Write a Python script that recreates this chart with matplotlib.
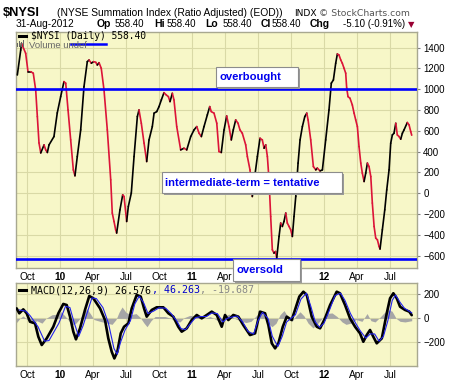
import matplotlib
matplotlib.use('Agg')
import matplotlib.pyplot as plt
from matplotlib.collections import LineCollection
from matplotlib.patches import Rectangle
from matplotlib.lines import Line2D

plt.rcParams['font.family'] = ['Liberation Sans', 'DejaVu Sans']

# ---------------- data (x = months since 1-Sep-2009) ----------------
nysi_t = [0.12, 0.43, 0.5, 0.88, 1.09, 1.34, 1.57, 1.79, 1.94, 2.09, 2.25, 2.55, 2.7, 2.85, 3.0,
          3.45, 3.75, 4.06, 4.36, 4.52, 4.73, 4.97, 5.21, 5.36, 5.57, 5.88, 6.18, 6.48, 6.64, 6.85,
          7.05, 7.25, 7.39, 7.55, 7.75, 8.0, 8.3, 8.61, 8.75, 8.91, 9.06, 9.15, 9.45, 9.7, 9.82,
          10.06, 10.21, 10.48, 10.73, 11.03, 11.18, 11.39, 11.64, 11.88, 12.09, 12.39, 12.55, 12.79,
          13.0, 13.21, 13.45, 13.66, 13.85, 14.0, 14.21, 14.36, 14.61, 14.97, 15.27, 15.52, 15.88,
          16.18, 16.43, 16.64, 16.85, 17.09, 17.39, 17.61, 17.75, 18.0, 18.25, 18.45, 18.66, 18.91,
          19.15, 19.36, 19.57, 19.75, 19.97, 20.18, 20.36, 20.57, 20.88, 21.03, 21.27, 21.48, 21.7,
          21.94, 22.18, 22.39, 22.55, 22.7, 22.85, 23.0, 23.15, 23.3, 23.45, 23.59, 23.7, 23.91,
          24.06, 24.21, 24.36, 24.52, 24.66, 24.82, 24.97, 25.12, 25.27, 25.43, 25.64, 25.82, 26.03,
          26.25, 26.43, 26.55, 26.79, 27.03, 27.25, 27.39, 27.64, 27.85, 28.15, 28.45, 28.66, 28.85,
          29.06, 29.21, 29.36, 29.52, 29.66, 29.82, 29.97, 30.06, 30.18, 30.36, 30.57, 30.73, 30.88,
          31.03, 31.18, 31.34, 31.48, 31.64, 31.79, 31.94, 32.09, 32.25, 32.39, 32.55, 32.7, 32.85,
          33.0, 33.09, 33.3, 33.52, 33.7, 33.91, 34.06, 34.21, 34.36, 34.52, 34.66, 34.82, 34.97,
          35.12, 35.27, 35.57, 35.73, 35.88, 35.97]
nysi_v = [1137, 1377, 1440, 1345, 1169, 1169, 1154, 993, 737, 484, 388, 465, 417, 392, 465,
          545, 772, 929, 1073, 1058, 801, 513, 225, 168, 353, 609, 1025, 1265, 1281, 1250,
          1265, 1259, 1233, 1255, 1201, 993, 609, 129, -190, -271, -351, -382, -159, -15, -31,
          -271, -127, 2, 353, 737, 801, 673, 482, 305, 513, 641, 770, 785,
          833, 897, 967, 945, 929, 881, 961, 897, 641, 417, 433, 417, 545,
          609, 641, 577, 545, 641, 753, 833, 785, 770, 673, 401, 392, 609,
          743, 641, 513, 609, 705, 673, 609, 577, 465, 353, 225, -31, 161,
          353, 529, 513, 433, 465, 353, 129, -223, -543, -575, -560, -622, -415,
          -286, -319, -271, -190, -286, -319, -351, -415, -223, -31, 290, 513, 641,
          737, 770, 705, 513, 257, 225, 242, 215, 225, 513, 801, 1058, 1089,
          1250, 1339, 1329, 1281, 1250, 1201, 1154, 1010, 929, 913, 849, 770, 705,
          641, 449, 290, 194, 113, 194, 290, 257, 161, -94, -319, -431, -447,
          -511, -536, -351, -159, 33, 225, 481, 561, 577, 673, 561, 545, 520,
          577, 609, 680, 657, 593, 558.4]

macd_t = [0.06, 0.3, 0.66, 0.97, 1.27, 1.73, 2.03, 2.34, 2.79, 3.39, 3.85, 4.3, 4.61, 4.91, 5.21,
          5.45, 5.82, 6.27, 6.66, 7.03, 7.64, 8.09, 8.39, 8.7, 8.94, 9.21, 9.52, 9.82, 10.21, 10.52,
          10.97, 11.34, 11.64, 11.88, 12.34, 12.79, 13.39, 13.85, 14.3, 14.75, 15.06, 15.52, 15.97,
          16.43, 16.88, 17.34, 17.79, 18.25, 18.7, 19.0, 19.3, 19.75, 20.21, 20.66, 21.27, 21.73,
          22.18, 22.64, 22.94, 23.25, 23.55, 23.85, 24.25, 24.61, 25.06, 25.36, 25.75, 26.12, 26.43,
          26.88, 27.34, 27.64, 28.09, 28.55, 29.15, 29.45, 29.91, 30.36, 30.82, 31.27, 31.57, 31.88,
          32.18, 32.48, 32.79, 33.25, 33.7, 34.0, 34.3, 34.61, 34.91, 35.36, 35.75, 35.97]
macd_v = [83, 42, 75, 42, -28, -42, -153, -222, -167, -70, 42, 120, 111, 14, -111,
          -175, -83, 70, 186, 167, 83, -14, -167, -278, -334, -278, -125, -70, -42, 83,
          195, 181, 83, 14, 70, 92, 92, 42, 14, -70, -111, -83, -14,
          28, 0, 28, 56, 28, -70, 28, -14, 28, 14, -56, -139, -125,
          56, 42, -56, -208, -250, -208, -70, 14, -14, 70, 181, 222, 195,
          14, -70, -83, 0, 111, 222, 209, 111, 0, -70, -125, -195, -139,
          -97, -153, -208, -167, 42, 167, 209, 167, 97, 70, 56, 26.576]

signal_t = [0.3, 0.9, 1.3, 2.0, 2.6, 3.0, 3.9, 4.5, 4.9, 5.3, 5.7, 6.1, 6.9, 7.3, 7.9, 8.4, 8.9,
            9.2, 9.5, 9.9, 10.4, 10.8, 11.2, 11.6, 12.0, 12.5, 13.0, 13.6, 14.1, 14.6, 15.0, 15.4,
            15.8, 16.3, 16.8, 17.3, 17.8, 18.3, 18.8, 19.2, 19.6, 20.1, 20.6, 21.1, 21.6, 22.0,
            22.4, 22.9, 23.3, 23.8, 24.2, 24.6, 25.0, 25.4, 25.9, 26.4, 26.8, 27.2, 27.6, 28.0,
            28.5, 29.0, 29.5, 29.9, 30.4, 30.9, 31.3, 31.8, 32.2, 32.6, 33.0, 33.4, 33.8, 34.2,
            34.5, 34.9, 35.3, 35.97]
signal_v = [70, 60, 20, -70, -190, -185, -40, 100, 90, -40, -150, -60, 170, 165, 90, -40, -250,
            -300, -200, -100, -20, 120, 185, 130, 40, 60, 88, 85, 40, -20, -85, -95,
            -50, 5, 15, 15, 45, 40, -30, 0, 10, 20, -30, -110, -130, -20,
            50, 0, -150, -235, -150, -30, 0, 30, 160, 210, 100, -30, -75, -40,
            70, 190, 210, 150, 40, -45, -105, -165, -130, -130, -190, -150, -20, 150,
            195, 135, 85, 46.263]

hist_t = [0, 0.36, 0.64, 1.0, 1.45, 1.9, 2.36, 2.73, 3.27, 3.82, 4.09, 4.45, 4.73, 5.09, 5.45,
          5.82, 6.18, 6.45, 6.82, 7.09, 7.64, 8.27, 8.73, 9.09, 9.36, 9.64, 10.0, 10.45, 10.91,
          11.27, 11.64, 11.91, 12.27, 12.64, 13.55, 14.09, 14.45, 14.91, 15.27, 15.82, 16.55,
          17.18, 17.64, 18.18, 18.64, 19.0, 19.36, 19.73, 20.36, 20.91, 21.36, 21.82, 22.18,
          22.55, 22.91, 23.27, 23.64, 24.0, 24.36, 24.73, 25.09, 25.45, 25.82, 26.18, 26.55,
          27.0, 27.45, 27.82, 28.18, 28.73, 29.18, 29.64, 30.0, 30.45, 30.91, 31.45, 31.91,
          32.27, 32.64, 33.09, 33.45, 33.82, 34.18, 34.55, 34.91, 35.36, 35.97]
hist_v = [-40, 0, 20, -10, -40, -20, -40, 0, 30, 35, 55, 20, -10, -55, -40,
          0, 50, 80, 30, -10, -25, -40, -50, -10, 50, 95, 50, 30, 40,
          10, -40, -70, -20, 15, 15, 0, -25, -30, 5, 25, 15,
          0, 15, -10, -40, 20, 35, 5, -20, -35, -25, 20, 50,
          30, -40, -70, -40, 30, 65, 10, -25, 20, 55, 20, -40,
          -80, -40, 0, 40, 45, 15, -30, -50, -40, -10, -25, 40,
          -20, -30, 10, 45, 70, 60, 0, -25, -30, -19.687]

tick_pos = [1, 4, 7, 10, 13, 16, 19, 22, 25, 28, 31, 34]
tick_lab = ['Oct', '10', 'Apr', 'Jul', 'Oct', '11', 'Apr', 'Jul', 'Oct', '12', 'Apr', 'Jul']
# labels under the "oversold" note are hidden in the main panel
main_hidden = {7, 8}
year_labels = {'10', '11', '12'}
overbought_level = 1000
oversold_level = -635

# ---------------- layout helpers ----------------
W, H = 460, 383
def fx(x): return x / W
def fy(y): return 1 - y / H

BG = '#F7F7C8'
GRID = '#D9D9A6'
FRAME = '#A8A890'
RED = '#DC1438'

fig = plt.figure(figsize=(4.6, 3.83), dpi=100)
fig.patch.set_facecolor('white')

def style_axes(ax, hidden=()):
    ax.set_facecolor(BG)
    for s in ax.spines.values():
        s.set_color(FRAME)
        s.set_linewidth(1.0)
    ax.set_xlim(0, 36.45)
    ax.set_xticks(tick_pos)
    ax.set_xticklabels(['' if i in hidden else l for i, l in enumerate(tick_lab)])
    for lab in ax.get_xticklabels():
        lab.set_fontsize(7.3)
        if lab.get_text() in year_labels:
            lab.set_fontweight('bold')
    ax.tick_params(axis='x', length=0, pad=3)
    ax.yaxis.tick_right()
    ax.tick_params(axis='y', length=2.5, width=0.8, color='#808080', labelsize=7, pad=2)
    ax.grid(True, color=GRID, linewidth=0.8)
    ax.set_axisbelow(True)

# ---------------- main panel ----------------
ax = fig.add_axes([fx(16), fy(268.3), (417 - 16) / W, (268.3 - 31.7) / H])
style_axes(ax, main_hidden)
ax.set_ylim(-721, 1553)
ax.set_yticks(range(-600, 1401, 200))

segs, cols = [], []
for i in range(len(nysi_t) - 1):
    segs.append([(nysi_t[i], nysi_v[i]), (nysi_t[i + 1], nysi_v[i + 1])])
    cols.append('black' if nysi_v[i + 1] >= nysi_v[i] else RED)
lc = LineCollection(segs, colors=cols, linewidths=1.2, capstyle='round', zorder=3)
ax.add_collection(lc)
ax.axhline(overbought_level, color='#0000FF', lw=1.9, zorder=4)
ax.axhline(oversold_level, color='#0000FF', lw=1.9, zorder=4)

# ---------------- MACD panel ----------------
ax2 = fig.add_axes([fx(16), fy(366), (417 - 16) / W, (366 - 283.3) / H])
style_axes(ax2)
ax2.set_ylim(-397, 292)
ax2.set_yticks([-200, 0, 200])
ax2.fill_between(hist_t, 0, hist_v, color='#A6A6A6', lw=0, zorder=2)
ax2.plot(macd_t, macd_v, color='black', lw=1.9, zorder=3, solid_capstyle='round')
ax2.plot(signal_t, signal_v, color='#2222EE', lw=0.8, zorder=4)

# ---------------- header text ----------------
fig.text(fx(3), fy(16.5), '$NYSI', fontsize=9.2, fontweight='bold', va='baseline')
fig.text(fx(57), fy(16.5), '(NYSE Summation Index (Ratio Adjusted) (EOD))', fontsize=7.4, va='baseline')
fig.text(fx(294), fy(16.5), 'INDX', fontsize=6.6, va='baseline', family='DejaVu Sans')
fig.text(fx(319), fy(16.5), '© StockCharts.com', fontsize=6.7, va='baseline', color='#555555', family='DejaVu Sans')

yb = 27.3
fig.text(fx(16), fy(yb), '31-Aug-2012', fontsize=7.3, va='baseline')
pieces = [(96.7, 'Op', True), (115, '558.40', False), (154, 'Hi', True), (167, '558.40', False),
          (205.7, 'Lo', True), (222.7, '558.40', False), (261, 'Cl', True), (271.7, '558.40', False),
          (310, 'Chg', True), (343.3, '-5.10 (-0.91%)', False)]
for x, s, b in pieces:
    fig.text(fx(x), fy(yb), s, fontsize=7.5 if b else 7.0, fontweight='bold' if b else 'normal', va='baseline')
fig.text(fx(408), fy(yb), '▼', fontsize=6, va='baseline', color='#990033', family='DejaVu Sans')

# legend inside main panel
fig.add_artist(Line2D([fx(19), fx(26)], [fy(35.5), fy(35.5)], color='black', lw=2.2))
fig.text(fx(31), fy(39), '$NYSI (Daily) 558.40', fontsize=6.9, family='DejaVu Sans Mono', va='baseline')
for bx, bh in [(17, 4), (19, 6), (21, 5), (23, 7)]:
    fig.add_artist(Rectangle((fx(bx), fy(47)), 1.4 / W, bh / H, color='#666666', lw=0))
fig.text(fx(29), fy(47.5), 'Volume undef', fontsize=6.8, va='baseline', color='#666666')
fig.add_artist(Line2D([fx(71), fx(106)], [fy(44.3), fy(44.3)], color='#0000FF', lw=1.8))

# MACD legend
fig.add_artist(Line2D([fx(19), fx(26)], [fy(290), fy(290)], color='black', lw=2.2))
mx = 31.5
for s, c in [('MACD(12,26,9) 26.576', 'black'), (', 46.263', '#0000CC'), (', -19.687', '#888888')]:
    fig.text(fx(mx), fy(293.5), s, fontsize=7.2, family='DejaVu Sans Mono', va='baseline', color=c)
    mx += len(s) * 6.02

# ---------------- annotation boxes ----------------
def note(x0, y0, x1, y1, text, tx):
    fig.add_artist(Rectangle((fx(x0 + 2), fy(y1 + 2)), (x1 - x0) / W, (y1 - y0) / H,
                             facecolor='#9A9A9A', edgecolor='none', zorder=5))
    fig.add_artist(Rectangle((fx(x0), fy(y1)), (x1 - x0) / W, (y1 - y0) / H,
                             facecolor='white', edgecolor='#8C8C8C', lw=0.8, zorder=6))
    fig.text(fx(tx), fy((y0 + y1) / 2), text, fontsize=8.1, fontweight='bold', color='#0000EE',
             va='center', ha='left', zorder=7)

note(216, 66.7, 297.7, 86.7, 'overbought', 219.5)
note(162.3, 171.7, 341.7, 193.3, 'intermediate-term = tentative', 165.5)
note(233.3, 259, 300, 280.7, 'oversold', 236.5)

fig.savefig('out.png', dpi=100)
